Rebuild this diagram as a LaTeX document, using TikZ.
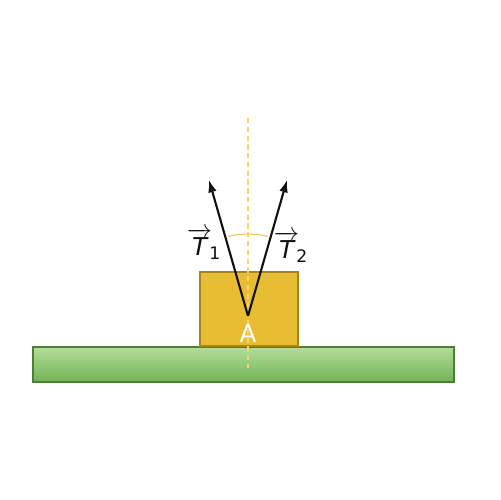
\documentclass[tikz,border=0pt]{standalone}
\usepackage{amsmath}
\usepackage{fontspec}
\setmainfont{DejaVu Sans}
\usepackage{tikz}
\usetikzlibrary{arrows.meta,calc,positioning}
\definecolor{GroundTop}{HTML}{B3DD9A}
\definecolor{GroundBot}{HTML}{72B255}
\definecolor{GroundEdge}{HTML}{4E7D38}
\definecolor{BlockFill}{HTML}{E9BD33}
\definecolor{BlockEdge}{HTML}{A88318}
\definecolor{Guide}{HTML}{F6D76A}
\definecolor{Ink}{HTML}{111111}
\newcommand{\tvec}[1]{$\overrightarrow{\text{\itshape T}}_{\!\text{#1}}$}

\begin{document}
\begin{tikzpicture}[x=0.02cm,y=0.02cm,>=Latex]
  \useasboundingbox (0,0) rectangle (500,500);
  % ground and block
  \shade[top color=GroundTop,bottom color=GroundBot,draw=GroundEdge,line width=0.6pt]
    (33,118) rectangle (454,153);
  \node[draw=BlockEdge,fill=BlockFill,line width=0.8pt,minimum width=98*0.02cm,
    minimum height=74*0.02cm,inner sep=0pt] (block) at (249,191) {};
  % vertical guide
  \coordinate (top) at (248,382);
  \coordinate (bot) at (248,132);
  \draw[Guide,dashed,line width=0.7pt,dash pattern=on 3pt off 2pt] (top) -- (bot);
  % tension vectors
  \coordinate (pointA) at (248,184);
  \coordinate (tip1) at (209,320);
  \coordinate (tip2) at (287,320);
  \draw[Guide!85!orange,line width=0.7pt] ($(pointA)+(104:82)$) arc[start angle=104,end angle=76,radius=82];
  \draw[Ink,line width=1.2pt,-{Latex[length=7pt,width=5pt]}] (pointA) -- (tip1);
  \draw[Ink,line width=1.2pt,-{Latex[length=7pt,width=5pt]}] (pointA) -- (tip2);
  \node[white,font=\fontsize{14}{16}\selectfont] (labelA) at (248,166) {A};
  \node[Ink,font=\fontsize{14}{16}\selectfont,inner sep=0pt] (labelT1) at (204,256) {\tvec{1}};
  \node[Ink,font=\fontsize{14}{16}\selectfont,inner sep=0pt] (labelT2) at (291,253) {\tvec{2}};
\end{tikzpicture}
\end{document}
